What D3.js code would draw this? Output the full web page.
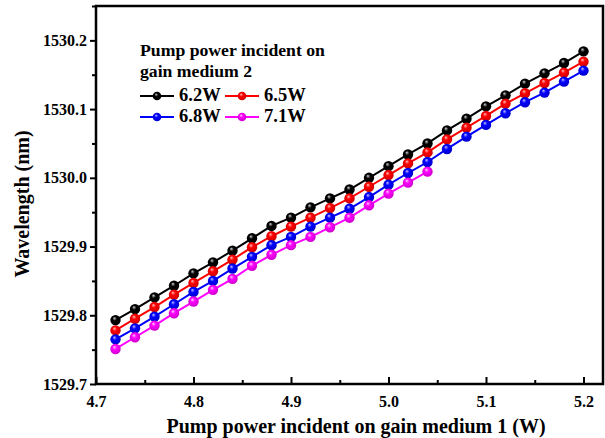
<!DOCTYPE html>
<html>
<head>
<meta charset="utf-8">
<script src="https://d3js.org/d3.v7.min.js"></script>
<style>
  body { margin: 0; background: #fff; }
  text { font-family: "Liberation Serif", "Times New Roman", serif; font-weight: bold; }
</style>
</head>
<body>
<div id="chart"></div>
<script>
// data
var xValues = [4.72, 4.74, 4.76, 4.78, 4.80, 4.82, 4.84, 4.86, 4.88, 4.90, 4.92, 4.94, 4.96,
               4.98, 5.00, 5.02, 5.04, 5.06, 5.08, 5.10, 5.12, 5.14, 5.16, 5.18, 5.20];
var wl62 = [1529.793, 1529.809, 1529.826, 1529.843, 1529.861, 1529.877, 1529.894, 1529.912, 1529.930,
            1529.942, 1529.957, 1529.970, 1529.983, 1530.000, 1530.017, 1530.034, 1530.050, 1530.069,
            1530.086, 1530.104, 1530.120, 1530.137, 1530.152, 1530.167, 1530.184];
var wl65 = [1529.778, 1529.795, 1529.812, 1529.830, 1529.847, 1529.864, 1529.881, 1529.899, 1529.915,
            1529.929, 1529.942, 1529.956, 1529.970, 1529.987, 1530.004, 1530.021, 1530.037, 1530.056,
            1530.073, 1530.090, 1530.108, 1530.123, 1530.138, 1530.153, 1530.169];
var wl68 = [1529.765, 1529.781, 1529.798, 1529.816, 1529.834, 1529.850, 1529.868, 1529.885, 1529.902,
            1529.914, 1529.929, 1529.942, 1529.955, 1529.972, 1529.990, 1530.007, 1530.023, 1530.042,
            1530.060, 1530.077, 1530.094, 1530.110, 1530.124, 1530.140, 1530.156];
var wl71 = [1529.751, 1529.768, 1529.785, 1529.803, 1529.820, 1529.837, 1529.853, 1529.872, 1529.888,
            1529.902, 1529.914, 1529.928, 1529.942, 1529.960, 1529.977, 1529.993, 1530.009];
var seriesNames = ["6.2W", "6.5W", "6.8W", "7.1W"];
var seriesColors = ["#000000", "#ff0000", "#0000ff", "#ff00ff"];
var seriesHighlights = ["#d0d0d0", "#ffc0c0", "#c0c0ff", "#ffd0ff"];
var xTicks = [4.7, 4.8, 4.9, 5.0, 5.1, 5.2];
var yTicks = [1529.7, 1529.8, 1529.9, 1530.0, 1530.1, 1530.2];

var allSeries = [wl62, wl65, wl68, wl71];

// dimensions
var svgWidth = 605, svgHeight = 438;
var margin = { top: 6, right: 2, bottom: 54, left: 96 };
var width = svgWidth - margin.left - margin.right;
var height = svgHeight - margin.top - margin.bottom;

var svg = d3.select("#chart")
    .append("svg")
        .attr("width", svgWidth)
        .attr("height", svgHeight);

// sphere-looking markers
var defs = svg.append("defs");
seriesColors.forEach(function(c, i) {
    var g = defs.append("radialGradient")
        .attr("id", "ball" + i)
        .attr("cx", "50%").attr("cy", "50%").attr("r", "60%")
        .attr("fx", "38%").attr("fy", "30%");
    g.append("stop").attr("offset", "0%").attr("stop-color", seriesHighlights[i]);
    g.append("stop").attr("offset", "35%").attr("stop-color", c);
    g.append("stop").attr("offset", "100%").attr("stop-color", d3.color(c).darker(0.8));
});

var plot = svg.append("g")
    .attr("transform", `translate(${margin.left}, ${margin.top})`);

// scales
var x = d3.scaleLinear().domain([4.7, 5.22]).range([0, width]);
var y = d3.scaleLinear().domain([1529.7, 1530.25]).range([height, 0]);

// minor ticks halfway between the labelled ones
var xMinor = xTicks.map(function(t) { return t + 0.05; }).filter(function(t) { return t < 5.22; });
var yMinor = yTicks.map(function(t) { return t + 0.05; });

// X axis (ticks point into the plot)
plot.append("g")
    .attr("transform", "translate(0," + height + ")")
    .call(d3.axisBottom(x).tickValues(xMinor).tickSize(-4).tickFormat(""))
    .call(function(g) { g.select(".domain").remove(); })
    .selectAll("line").attr("stroke-width", 2);
var xAxisG = plot.append("g")
    .attr("transform", "translate(0," + height + ")")
    .call(d3.axisBottom(x).tickValues(xTicks).tickSize(-7).tickFormat(d3.format(".1f")));
xAxisG.select(".domain").remove();
xAxisG.selectAll("line").attr("stroke-width", 2);
xAxisG.selectAll("text")
    .attr("y", 12)
    .style("font-size", "16px");

// Y axis (ticks point outward)
plot.append("g")
    .call(d3.axisLeft(y).tickValues(yMinor).tickSize(4).tickFormat(""))
    .call(function(g) { g.select(".domain").remove(); })
    .selectAll("line").attr("stroke-width", 2);
var yAxisG = plot.append("g")
    .call(d3.axisLeft(y).tickValues(yTicks).tickSize(6).tickFormat(d3.format(".1f")));
yAxisG.select(".domain").remove();
yAxisG.selectAll("line").attr("stroke-width", 2);
yAxisG.selectAll("text")
    .attr("x", -9)
    .style("font-size", "16px");

// frame
plot.append("rect")
    .attr("x", 0).attr("y", 0)
    .attr("width", width).attr("height", height)
    .attr("fill", "none")
    .attr("stroke", "black")
    .attr("stroke-width", 2.5);

// lines + markers
var line = d3.line()
    .x(function(d) { return x(d[0]); })
    .y(function(d) { return y(d[1]); });

allSeries.forEach(function(vals, i) {
    var pts = vals.map(function(v, j) { return [xValues[j], v]; });
    plot.append("path")
        .datum(pts)
        .attr("d", line)
        .attr("fill", "none")
        .attr("stroke", seriesColors[i])
        .attr("stroke-width", 2);
});
allSeries.forEach(function(vals, i) {
    var pts = vals.map(function(v, j) { return [xValues[j], v]; });
    plot.selectAll(".dot" + i)
        .data(pts)
        .enter()
        .append("circle")
            .attr("class", "dot" + i)
            .attr("cx", function(d) { return x(d[0]); })
            .attr("cy", function(d) { return y(d[1]); })
            .attr("r", 5.2)
            .attr("fill", "url(#ball" + i + ")");
});

// axis titles
svg.append("text")
    .attr("x", 356)
    .attr("y", 433)
    .attr("text-anchor", "middle")
    .style("font-size", "20px")
    .text("Pump power incident on gain medium 1 (W)");

svg.append("text")
    .attr("transform", "translate(29,204) rotate(-90)")
    .attr("text-anchor", "middle")
    .style("font-size", "20px")
    .text("Wavelength (nm)");

// legend
var legend = svg.append("g");
legend.append("text")
    .attr("x", 140).attr("y", 56)
    .style("font-size", "17.7px")
    .text("Pump power incident on");
legend.append("text")
    .attr("x", 140).attr("y", 77)
    .style("font-size", "17.7px")
    .text("gain medium 2");

var legX = [140, 225];
var legY = [96, 117];
seriesNames.forEach(function(name, i) {
    var lx = legX[i % 2], ly = legY[Math.floor(i / 2)];
    legend.append("line")
        .attr("x1", lx).attr("x2", lx + 34)
        .attr("y1", ly).attr("y2", ly)
        .attr("stroke", seriesColors[i])
        .attr("stroke-width", 2);
    legend.append("circle")
        .attr("cx", lx + 17).attr("cy", ly)
        .attr("r", 4.3)
        .attr("fill", "url(#ball" + i + ")");
    legend.append("text")
        .attr("x", lx + 39).attr("y", ly + 5)
        .style("font-size", "18.5px")
        .text(name);
});
</script>
</body>
</html>
